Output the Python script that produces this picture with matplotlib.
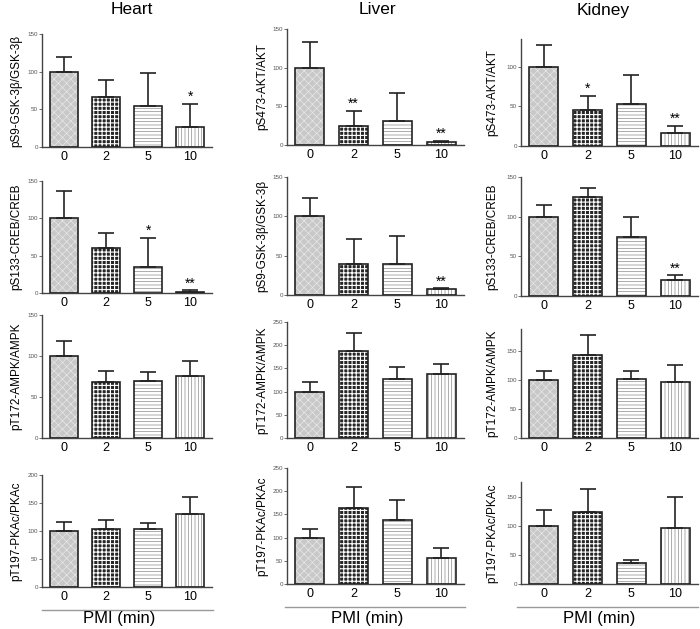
#Recreates the 4x3 grid of western blot quantification bar charts (Heart, Liver, Kidney).
import matplotlib.pyplot as plt
import numpy as np
from matplotlib.lines import Line2D

plt.rcParams['font.family'] = ['Liberation Sans', 'DejaVu Sans']
plt.rcParams['hatch.linewidth'] = 0.5

#Data (mean and upper error of each bar).
tissues = ['Heart', 'Liver', 'Kidney']
pmi = ['0', '2', '5', '10']

heart_labels = ['pS9-GSK-3β/GSK-3β', 'pS133-CREB/CREB', 'pT172-AMPK/AMPK', 'pT197-PKAc/PKAc']
heart_means = [[100, 66, 55, 26], [100, 60, 35, 2], [100, 68, 70, 76], [100, 103, 104, 130]]
heart_errs = [[20, 23, 43, 31], [36, 21, 39, 1.5], [18, 14, 11, 18], [16, 17, 11, 30]]
heart_stars = [['', '', '', '*'], ['', '', '*', '**'], ['', '', '', ''], ['', '', '', '']]

liver_labels = ['pS473-AKT/AKT', 'pS9-GSK-3β/GSK-3β', 'pT172-AMPK/AMPK', 'pT197-PKAc/PKAc']
liver_means = [[100, 24, 31, 4], [100, 39, 39, 7], [100, 188, 128, 139], [100, 163, 139, 56]]
liver_errs = [[33, 20, 36, 1.5], [23, 32, 36, 1.5], [20, 39, 26, 21], [19, 45, 43, 22]]
liver_stars = [['', '**', '', '**'], ['', '', '', '**'], ['', '', '', ''], ['', '', '', '']]

kidney_labels = ['pS473-AKT/AKT', 'pS133-CREB/CREB', 'pT172-AMPK/AMPK', 'pT197-PKAc/PKAc']
kidney_means = [[100, 45, 53, 17], [100, 125, 75, 20], [100, 143, 101, 96], [100, 124, 36, 97]]
kidney_errs = [[27, 18, 36, 8], [15, 11, 25, 6], [15, 34, 14, 29], [28, 40, 5, 53]]
kidney_stars = [['', '*', '', '**'], ['', '', '', '**'], ['', '', '', ''], ['', '', '', '']]

#Axis limits and ticks for each panel.
ylims = [[150, 150, 150, 200], [150, 150, 250, 250], [135, 150, 187, 176]]
ytick_tops = [[150, 150, 150, 200], [150, 150, 250, 250], [100, 150, 150, 150]]

#Layout in pixels: column left/right edges, row (top, zero) positions.
W, H = 700, 629
col_x = [(42, 212), (287, 464), (521, 698)]
row_y = [[(34, 147), (181, 293), (315, 438), (475, 587)],
         [(29, 145), (177, 295), (322, 438), (468, 584)],
         [(39, 146), (177, 296), (329, 438), (482, 584)]]
label_off = [-20, -19, -23]
title_x = [132, 377, 603]
pmi_line = [(42, 213, 610), (285, 465, 607), (517, 698, 607)]

#Bar styles: face colour, hatch, hatch colour and hatch width per time point.
faces = ['#c8c8c8', '#262626', 'white', 'white']
hatches = ['xxxx', '++++', '-----', '|||||']
hatch_cols = ['#e8e8e8', 'white', '#8a8a8a', '#8a8a8a']
hatch_lws = [0.5, 0.8, 0.5, 0.5]

fig = plt.figure(figsize=(7, 6.29), dpi=100)

all_labels = [heart_labels, liver_labels, kidney_labels]
all_means = [heart_means, liver_means, kidney_means]
all_errs = [heart_errs, liver_errs, kidney_errs]
all_stars = [heart_stars, liver_stars, kidney_stars]

x = np.arange(len(pmi))
for c in range(3):
    x0, x1 = col_x[c]
    for r in range(4):
        ytop, yzero = row_y[c][r]
        ax = fig.add_axes([x0 / W, 1 - yzero / H, (x1 - x0) / W, (yzero - ytop) / H])
        means = np.array(all_means[c][r], dtype=float)
        errs = np.array(all_errs[c][r], dtype=float)
        for i in range(4):
            b = ax.bar(x[i], means[i], 0.66, color=faces[i], hatch=hatches[i],
                       edgecolor=hatch_cols[i], linewidth=0, zorder=2)
            if hasattr(b[0], 'set_hatch_linewidth'):
                b[0].set_hatch_linewidth(hatch_lws[i])
            ax.bar(x[i], means[i], 0.66, fill=False, edgecolor='#222222', linewidth=1.2, zorder=3)
        ax.errorbar(x, means, yerr=[np.zeros(4), errs], fmt='none', ecolor='#222222',
                    elinewidth=1.2, capsize=5.5, capthick=1.2, zorder=4)
        for i in range(4):
            if all_stars[c][r][i]:
                ax.annotate(all_stars[c][r][i], (x[i], means[i] + errs[i]), xytext=(0, 0),
                            textcoords='offset points', ha='center', va='bottom', fontsize=10)
        ax.set_xlim(-0.52, 3.52)
        ax.set_ylim(0, ylims[c][r])
        ax.set_yticks(np.arange(0, ytick_tops[c][r] + 1, 50))
        ax.set_xticks(x)
        ax.set_xticklabels(pmi, fontsize=9)
        ax.tick_params(axis='x', length=0, pad=3)
        ax.tick_params(axis='y', length=2, width=0.6, colors='#555555', labelsize=4.5, pad=1)
        for s in ['top', 'right']:
            ax.spines[s].set_visible(False)
        for s in ['left', 'bottom']:
            ax.spines[s].set_color('#444444')
            ax.spines[s].set_linewidth(1)
        ax.patch.set_alpha(0)
        ax.set_ylabel(all_labels[c][r], fontsize=8.5)
        ax.yaxis.set_label_coords(label_off[c] / (x1 - x0), 0.5)

    #Column title and PMI axis caption.
    fig.text(title_x[c] / W, 1 - 10 / H, tissues[c], ha='center', va='center', fontsize=12.5)
    lx0, lx1, ly = pmi_line[c]
    fig.add_artist(Line2D([lx0 / W, lx1 / W], [1 - ly / H, 1 - ly / H], color='#999999', linewidth=1))
    fig.text((lx0 + lx1) / 2 / W - 8 / W, 1 - 619 / H, 'PMI (min)', ha='center', va='center', fontsize=12)

fig.savefig('out.png', dpi=100)
